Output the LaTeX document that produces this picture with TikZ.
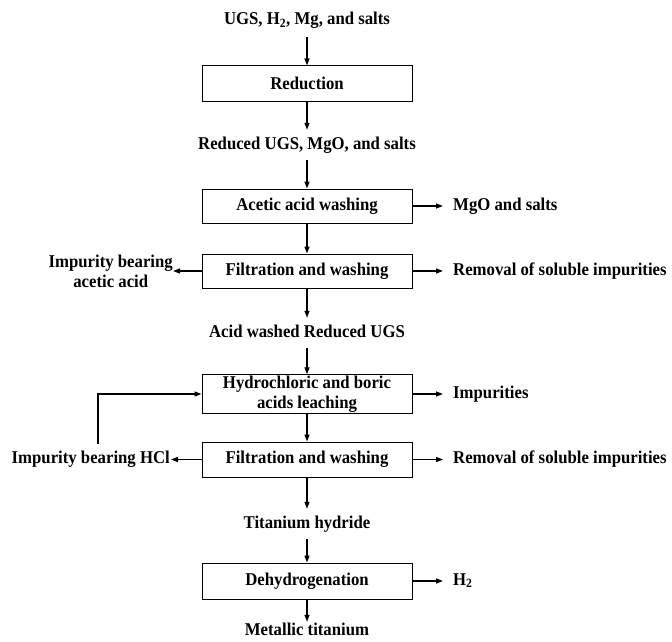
\documentclass[tikz,border=0pt]{standalone}
\usepackage{fontspec}
\setmainfont{Liberation Serif}[FakeStretch=0.93]
\usetikzlibrary{arrows.meta,positioning}
\begin{document}
\begin{tikzpicture}[x=1pt,y=-1pt,
  every node/.style={font=\fontsize{18}{20}\selectfont\bfseries},
  stepbox/.style={draw,line width=1pt,minimum width=210pt,minimum height=35pt,inner sep=1pt,align=center},
  lbl/.style={inner xsep=0pt,inner ysep=7pt,text height=12pt,text depth=4pt},
  rlbl/.style={anchor=west,inner xsep=10pt,inner ysep=2pt,text height=12pt,text depth=4pt},
  arr/.style={line width=1.4pt,-{Triangle[length=7pt,width=5pt]}}]
\useasboundingbox (0,0) rectangle (672,642);
% main column
\node[lbl,inner ysep=8pt] (in) at (307,21) {UGS, H\textsubscript{2}, Mg, and salts};
\node[stepbox] (red) at (307,83.5) {Reduction};
\node[lbl] (rugs) at (307,145) {Reduced UGS, MgO, and salts};
\node[stepbox,minimum height=34pt] (acet) at (307,206) {Acetic acid washing};
\node[stepbox,minimum height=34pt] (filt1) at (307,271) {Filtration and washing};
\node[lbl] (aw) at (307,333) {Acid washed Reduced UGS};
\node[stepbox,minimum height=38pt] (leach) at (307,394) {Hydrochloric and boric\\acids leaching};
\node[stepbox] (filt2) at (307,459.5) {Filtration and washing};
\node[lbl] (tih) at (307,524) {Titanium hydride};
\node[stepbox,minimum height=36pt] (dehyd) at (307,581) {Dehydrogenation};
\node[lbl,inner ysep=1pt] (ti) at (307,631) {Metallic titanium};
% side labels
\node[rlbl] (mgo) at (443,206) {MgO and salts};
\node[rlbl] (rem1) at (443,271) {Removal of soluble impurities};
\node[anchor=east,inner sep=0pt,align=center] (iba) at (173,271) {Impurity bearing\\acetic acid};
\node[rlbl] (imp) at (443,394) {Impurities};
\node[rlbl] (rem2) at (443,459.5) {Removal of soluble impurities};
\node[anchor=east,inner xsep=1pt,inner ysep=7pt,text height=12pt,text depth=4pt] (ibh) at (171,459.5) {Impurity bearing HCl};
\node[rlbl] (h2) at (443,581) {H\textsubscript{2}};
\coordinate (fbx) at (98,0);
% vertical flow
\draw[arr] (in) -- (red);
\draw[arr] (red) -- (rugs);
\draw[arr] (rugs) -- (acet);
\draw[arr] (acet) -- (filt1);
\draw[arr] (filt1) -- (aw);
\draw[arr] (aw) -- (leach);
\draw[arr] (leach) -- (filt2);
\draw[arr] (filt2) -- (tih);
\draw[arr] (tih) -- (dehyd);
\draw[arr] (dehyd) -- (ti);
% side arrows
\draw[arr] (acet.east) -- (mgo.west);
\draw[arr] (filt1.east) -- (rem1.west);
\draw[arr] (filt1.west) -- (iba.east);
\draw[arr] (leach.east) -- (imp.west);
\draw[arr] (filt2.east) -- (rem2.west);
\draw[arr] (filt2.west) -- (ibh.east);
\draw[arr] (dehyd.east) -- (h2.west);
\draw[arr] (ibh.north -| fbx) |- (leach.west);
\end{tikzpicture}
\end{document}
